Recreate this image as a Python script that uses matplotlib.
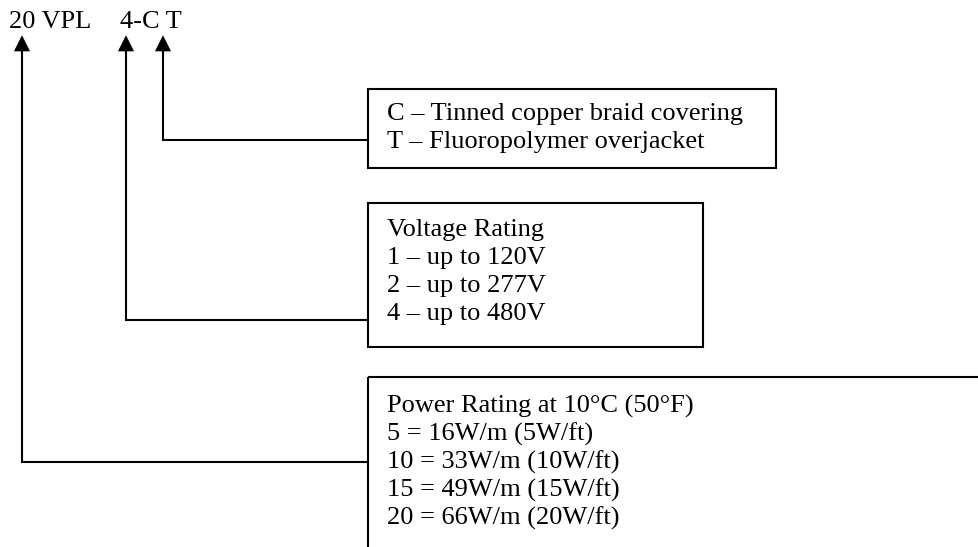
import matplotlib.pyplot as plt
from matplotlib.patches import Rectangle, Polygon

# text content of the part-number diagram
code_parts = ["20 VPL", "4-C T"]
sheath_lines = ["C – Tinned copper braid covering", "T – Fluoropolymer overjacket"]
voltage_lines = ["Voltage Rating", "1 – up to 120V", "2 – up to 277V", "4 – up to 480V"]
power_lines = ["Power Rating at 10°C (50°F)", "5 = 16W/m (5W/ft)", "10 = 33W/m (10W/ft)",
               "15 = 49W/m (15W/ft)", "20 = 66W/m (20W/ft)"]

W, H = 979, 547
fig = plt.figure(figsize=(W / 100, H / 100), dpi=100)
ax = fig.add_axes([0, 0, 1, 1])
ax.set_xlim(0, W)
ax.set_ylim(H, 0)
ax.axis("off")

font = dict(family="Liberation Serif", fontsize=19, color="black")
lw = 1.5

# code string at the top
ax.text(9, 28, code_parts[0], va="baseline", ha="left", **font)
ax.text(120, 28, code_parts[1], va="baseline", ha="left", **font)

# (lines, left, top, right, bottom, arrow x, connector y, first-line offset)
boxes = [
    (sheath_lines, 368, 89, 776, 168, 163, 140, 25),
    (voltage_lines, 368, 203, 703, 347, 126, 320, 27),
    (power_lines, 368, 377, 1000, 600, 22, 462, 29),
]

for lines, x0, y0, x1, y1, ax_x, conn_y, pad in boxes:
    ax.add_patch(Rectangle((x0, y0), x1 - x0, y1 - y0, fill=False, lw=lw, ec="black"))
    for i, s in enumerate(lines):
        ax.text(387, y0 + pad + i * 28, s, va="center", ha="left", **font)
    # connector + arrow
    ax.plot([x0, ax_x, ax_x], [conn_y, conn_y, 50], color="black", lw=lw, solid_joinstyle="miter")
    ax.add_patch(Polygon([(ax_x - 7.5, 51), (ax_x + 7.5, 51), (ax_x, 36)], closed=True,
                         fc="black", ec="black", lw=0.5))

fig.savefig("out.png", dpi=100)
